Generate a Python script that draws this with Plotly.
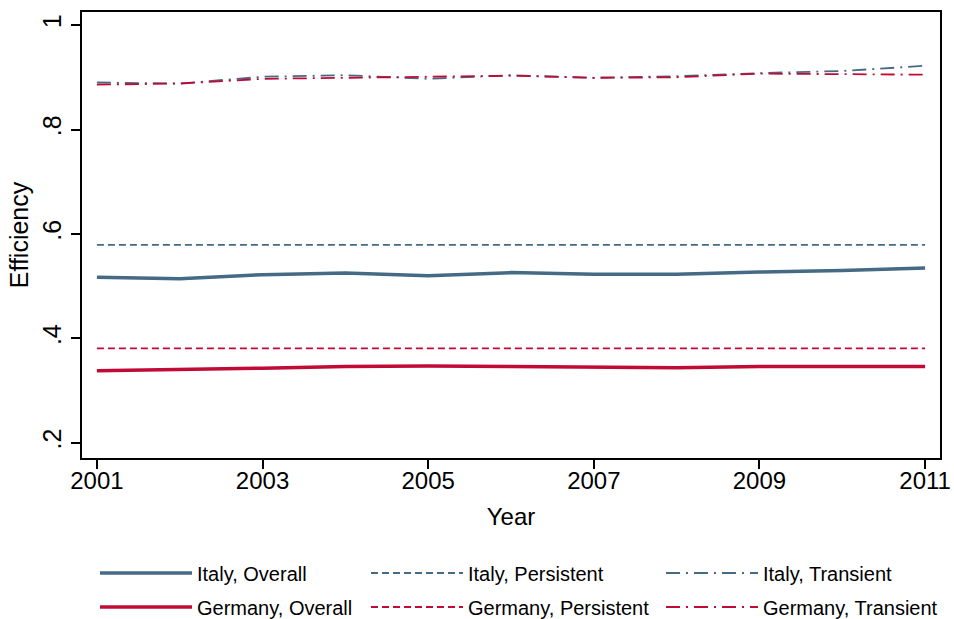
import plotly.graph_objects as go

years = list(range(2001, 2012))
italy_overall = [0.517, 0.514, 0.522, 0.525, 0.520, 0.526, 0.523, 0.523, 0.527, 0.530, 0.535]
italy_persistent = [0.579] * 11
italy_transient = [0.890, 0.888, 0.901, 0.904, 0.897, 0.904, 0.899, 0.902, 0.908, 0.912, 0.922]
germany_overall = [0.338, 0.340, 0.343, 0.346, 0.347, 0.346, 0.345, 0.344, 0.346, 0.346, 0.346]
germany_persistent = [0.381] * 11
germany_transient = [0.886, 0.888, 0.897, 0.899, 0.902, 0.903, 0.899, 0.900, 0.907, 0.906, 0.905]

x_tickvals = [2001, 2003, 2005, 2007, 2009, 2011]
y_tickvals = [0.2, 0.4, 0.6, 0.8, 1.0]
y_ticktext = [".2", ".4", ".6", ".8", "1"]

ITALY = "#456A85"
GERMANY = "#C10A36"
FONT = "Liberation Sans, Arial, sans-serif"

series = [
    ("Italy, Overall", italy_overall, ITALY, "solid", 3.5, "legend"),
    ("Italy, Persistent", italy_persistent, ITALY, "7px,4px", 1.8, "legend2"),
    ("Italy, Transient", italy_transient, ITALY, "14px,6px,2px,6px", 1.8, "legend3"),
    ("Germany, Overall", germany_overall, GERMANY, "solid", 3.5, "legend4"),
    ("Germany, Persistent", germany_persistent, GERMANY, "7px,4px", 1.8, "legend5"),
    ("Germany, Transient", germany_transient, GERMANY, "14px,6px,2px,6px", 1.8, "legend6"),
]

fig = go.Figure()
for name, vals, col, dash, w, lg in series:
    fig.add_trace(go.Scatter(x=years, y=vals, mode="lines", name=name,
                             line=dict(color=col, dash=dash, width=w),
                             legend=lg))

# plot area: x 82..940, y 12..458
W_PLOT = 858.0
H_PLOT = 446.0
col_px = [95, 366, 661]
row_px = [573, 607]
legs = {}
names = ["legend", "legend2", "legend3", "legend4", "legend5", "legend6"]
for i, ln in enumerate(names):
    r = i // 3
    c = i % 3
    legs[ln] = dict(
        x=(col_px[c] - 82) / W_PLOT,
        y=(458 - row_px[r]) / H_PLOT,
        xanchor="left", yanchor="middle",
        orientation="v",
        itemwidth=92,
        bgcolor="rgba(0,0,0,0)",
        font=dict(family=FONT, size=20, color="black"),
    )

fig.update_layout(
    width=954, height=619,
    margin=dict(l=82, r=14, t=12, b=161, autoexpand=False),
    paper_bgcolor="white", plot_bgcolor="white",
    font=dict(family=FONT, color="black"),
    showlegend=True,
    **legs,
)

fig.update_xaxes(
    range=[2000.82, 2011.18],
    tickvals=x_tickvals, ticktext=[str(v) for v in x_tickvals],
    ticks="outside", ticklen=9, tickwidth=1.5, tickcolor="black",
    showline=True, linecolor="black", linewidth=2, mirror=True,
    showgrid=False, zeroline=False, automargin=False,
    ticklabelstandoff=-9,
    tickfont=dict(family=FONT, size=24, color="black"),
    title=dict(text="Year", font=dict(family=FONT, size=24, color="black"), standoff=15),
)
fig.update_yaxes(
    range=[0.171, 1.025],
    tickvals=y_tickvals, ticktext=y_ticktext, tickangle=-90,
    ticks="outside", ticklen=9, tickwidth=1.5, tickcolor="black",
    showline=True, linecolor="black", linewidth=2, mirror=True,
    showgrid=False, zeroline=False, automargin=False,
    tickfont=dict(family=FONT, size=25, color="black"),
    title=dict(text="Efficiency", font=dict(family=FONT, size=25, color="black"), standoff=2),
)

fig.write_html("out.html")
